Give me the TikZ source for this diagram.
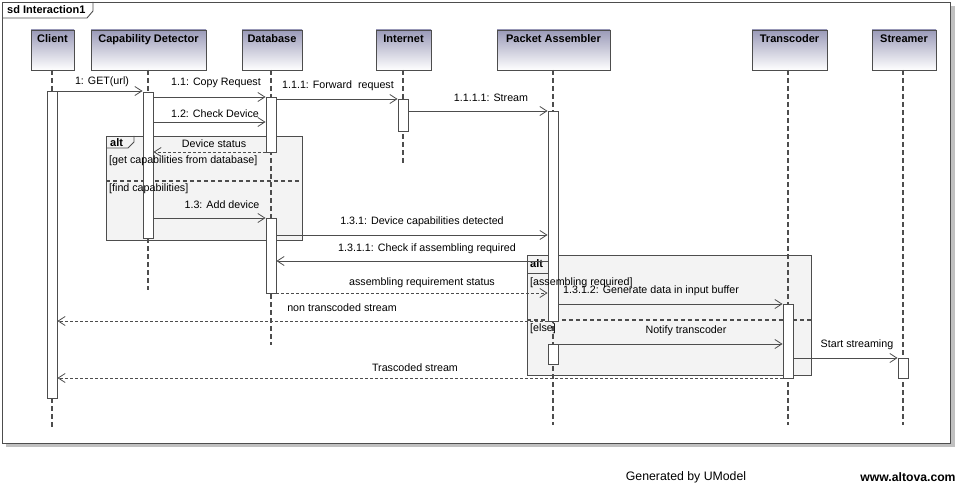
\documentclass[tikz,border=0pt]{standalone}
\usepackage{fontspec}
\setmainfont{Liberation Sans}
\usetikzlibrary{arrows.meta}
\definecolor{ln}{HTML}{4D4D4D}
\definecolor{hd}{HTML}{9A9AB8}
\definecolor{frm}{HTML}{F3F3F3}
\definecolor{shd}{HTML}{C0C0C0}
\begin{document}
\begin{tikzpicture}[x=1pt,y=-1pt,
 head/.style={draw=ln, line width=0.9pt, rectangle, top color=hd, bottom color=white, minimum height=40pt, inner sep=0pt},
 headtxt/.style={font=\fontsize{11}{13}\selectfont\bfseries, anchor=north, inner sep=0pt},
 lifeline/.style={draw=ln, line width=2pt, dash pattern=on 5pt off 3pt},
 bar/.style={draw=ln, fill=white, line width=0.9pt, minimum width=10pt, inner sep=0pt, anchor=north, rectangle},
 msg/.style={draw=ln, line width=0.9pt, -{Straight Barb[length=7pt,width=9pt,line width=0.8pt]}},
 ret/.style={msg, dash pattern=on 3pt off 2pt},
 lbl/.style={font=\fontsize{10.7}{12}\selectfont, inner sep=0pt},
 frame/.style={draw=ln, fill=frm, line width=0.9pt},
 sep/.style={draw=ln, line width=1.3pt, dash pattern=on 4pt off 3pt},
 guard/.style={font=\fontsize{10.7}{12}\selectfont, inner sep=0pt, anchor=west},
 tabtxt/.style={font=\fontsize{11}{13}\selectfont\bfseries, inner sep=0pt, anchor=west}
]
\useasboundingbox (0,0) rectangle (966,484);
% outer frame
\fill[shd] (6,6) rectangle (955,447);
\draw[ln, fill=white, line width=0.9pt] (2,2) rectangle (950,443);
\draw[ln, line width=0.9pt] (2,18) -- (87,18) -- (93,11) -- (93,2);
\node[tabtxt] (title) at (7,10) {sd Interaction1};

% alt frames
\draw[frame] (106,136) rectangle (302,240);
\draw[ln, line width=0.9pt] (106,148) -- (128,148) -- (134,142) -- (134,136);
\node[tabtxt] (alt1) at (110,143) {alt};
\draw[sep] (106,181) -- (302,181);

\draw[frame] (527,255) rectangle (811,375);
\draw[ln, line width=0.9pt] (527,273) -- (550,273) -- (550,255);
\node[tabtxt] (alt2) at (530,264) {alt};
\draw[sep] (527,320) -- (811,320);

% heads
\node[head, minimum width=43pt] (client) at (52.5,50) {};
\node[head, minimum width=115pt] (cap) at (148.5,50) {};
\node[head, minimum width=60pt] (db) at (272,50) {};
\node[head, minimum width=55pt] (inet) at (403.5,50) {};
\node[head, minimum width=113pt] (pa) at (553.5,50) {};
\node[head, minimum width=75pt] (tc) at (789.5,50) {};
\node[head, minimum width=64pt] (st) at (904,50) {};
\node[headtxt] (t1) at ([yshift=-5pt]client.north) {Client};
\node[headtxt] (t2) at ([yshift=-5pt]cap.north) {Capability Detector};
\node[headtxt] (t3) at ([yshift=-5pt]db.north) {Database};
\node[headtxt] (t4) at ([yshift=-5pt]inet.north) {Internet};
\node[headtxt] (t5) at ([yshift=-5pt]pa.north) {Packet Assembler};
\node[headtxt] (t6) at ([yshift=-5pt]tc.north) {Transcoder};
\node[headtxt] (t7) at ([yshift=-5pt]st.north) {Streamer};

% lifelines
\coordinate (e1) at (52,427);
\coordinate (e2) at (148,290);
\coordinate (e3) at (271,345);
\coordinate (e4) at (403,163);
\coordinate (e5) at (553,425);
\coordinate (e6) at (788,425);
\coordinate (e7) at (903,425);
\draw[lifeline] (52,70) -- (e1);
\draw[lifeline] (148,70) -- (e2);
\draw[lifeline] (271,70) -- (e3);
\draw[lifeline] (403,70) -- (e4);
\draw[lifeline] (553,70) -- (e5);
\draw[lifeline] (788,70) -- (e6);
\draw[lifeline] (903,70) -- (e7);

% activation bars
\node[bar, minimum height=307pt] (clbar) at (52,91) {};
\node[bar, minimum height=146pt] (cdbar) at (148,92) {};
\node[bar, minimum height=55pt] (dbbar) at (271,97) {};
\node[bar, minimum height=75pt] (dbbarb) at (271,218) {};
\node[bar, minimum height=32pt] (inbar) at (403,99) {};
\node[bar, minimum height=210pt] (pabar) at (553,111) {};
\node[bar, minimum height=20pt] (pabarb) at (553,344) {};
\node[bar, minimum height=74pt] (tcbar) at (788,304) {};
\node[bar, minimum height=20pt] (stbar) at (903,358) {};

% guards (over bars)
\node[guard] (g1) at (109,161) {[get capabilities from database]};
\node[guard] (g2) at (109,189) {[find capabilities]};
\node[guard] (g3) at (530,283) {[assembling required]};
\node[guard] (g4) at (530,329) {[else]};

% messages
\draw[msg] (clbar.east |- 0,91) -- (cdbar.west |- 0,91);
\node[lbl] (l1) at (102,82) {1: GET(url)};
\draw[msg] (cdbar.east |- 0,97) -- (dbbar.west |- 0,97);
\node[lbl] (l2) at (216,83) {1.1: Copy Request};
\draw[msg] (cdbar.east |- 0,122) -- (dbbar.west |- 0,122);
\node[lbl] (l3) at (215,114) {1.2: Check Device};
\draw[msg] (dbbar.east |- 0,99) -- (inbar.west |- 0,99);
\node[lbl] (l4) at (338,86) {1.1.1: Forward\ \ request};
\draw[msg] (inbar.east |- 0,111) -- (pabar.west |- 0,111);
\node[lbl] (l5) at (491,98) {1.1.1.1: Stream};
\draw[ret] (dbbar.west |- 0,152) -- (cdbar.east |- 0,152);
\node[lbl] (l6) at (214,144) {Device status};
\draw[msg] (cdbar.east |- 0,218) -- (dbbarb.west |- 0,218);
\node[lbl] (l7) at (222,205) {1.3: Add device};
\draw[msg] (dbbarb.east |- 0,235) -- (pabar.west |- 0,235);
\node[lbl] (l8) at (422,222) {1.3.1: Device capabilities detected};
\draw[msg] (pabar.west |- 0,261) -- (dbbarb.east |- 0,261);
\node[lbl] (l9) at (427,249) {1.3.1.1: Check if assembling required};
\draw[ret] (dbbarb.east |- 0,293) -- (pabar.west |- 0,293);
\node[lbl] (l10) at (422,283) {assembling requirement status};
\draw[ret] (pabar.west |- 0,321) -- (clbar.east |- 0,321);
\node[lbl] (l11) at (342,308) {non transcoded stream};
\draw[msg] (pabar.east |- 0,304) -- (tcbar.west |- 0,304);
\node[lbl] (l12) at (651,291) {1.3.1.2: Generate data in input buffer};
\draw[msg] (pabarb.east |- 0,344) -- (tcbar.west |- 0,344);
\node[lbl] (l13) at (686,331) {Notify transcoder};
\draw[msg] (tcbar.east |- 0,358) -- (stbar.west |- 0,358);
\node[lbl] (l14) at (857,345) {Start streaming};
\draw[ret] (tcbar.west |- 0,378) -- (clbar.east |- 0,378);
\node[lbl] (l15) at (415,368) {Trascoded stream};

% footer
\node[font=\fontsize{12.3}{14}\selectfont, inner sep=0pt] (f1) at (686,477) {Generated by UModel};
\node[font=\fontsize{12.2}{14}\selectfont\bfseries, inner sep=0pt] (f2) at (908,477) {www.altova.com};
\end{tikzpicture}
\end{document}
